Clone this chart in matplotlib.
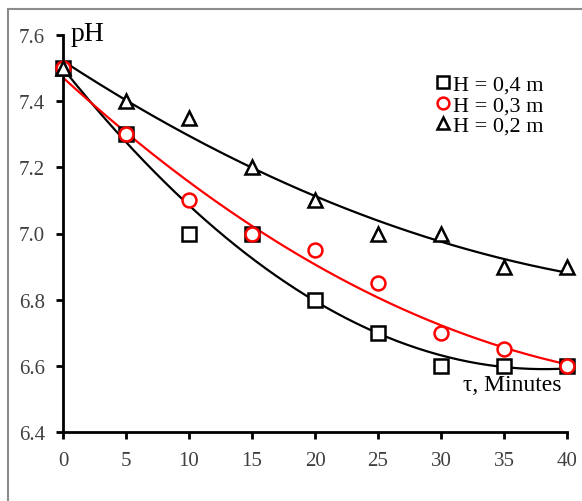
import numpy as np
import matplotlib.pyplot as plt
from matplotlib.lines import Line2D

plt.rcParams['font.family'] = 'Liberation Serif'

tau = [0, 5, 10, 15, 20, 25, 30, 35, 40]
ph_04 = [7.5, 7.3, 7.0, 7.0, 6.8, 6.7, 6.6, 6.6, 6.6]
ph_03 = [7.5, 7.3, 7.1, 7.0, 6.95, 6.85, 6.7, 6.65, 6.6]
ph_02 = [7.5, 7.4, 7.35, 7.2, 7.1, 7.0, 7.0, 6.9, 6.9]
labels = ['H = 0,4 m', 'H = 0,3 m', 'H = 0,2 m']

fig = plt.figure(figsize=(5.82, 5.02), dpi=100)
# grey frame of the original picture (cropped on right/bottom)
fx, fy = 8/582, 1 - 10/502
fig.lines.append(Line2D([fx, 1.0], [fy, fy], transform=fig.transFigure, color='#8c8c8c', lw=1.5))
fig.lines.append(Line2D([fx, fx], [0, fy], transform=fig.transFigure, color='#8c8c8c', lw=1.5))
ax = fig.add_axes([63/582, 1 - 433/502, 504/582, 397/502])

xs = np.linspace(0, 40, 200)
series = [(ph_04, 's', 'black'), (ph_03, 'o', 'red'), (ph_02, '^', 'black')]
for (y, m, c), lab in zip(series, labels):
    p = np.polyfit(tau, y, 2)
    ax.plot(xs, np.polyval(p, xs), color=c, lw=1.6, zorder=2)
    ax.plot(tau, y, m, mfc='white', mec=c, mew=1.8, ms=10, ls='none', label=lab,
            zorder=3, clip_on=False)

ax.set_xlim(0, 40)
ax.set_ylim(6.4, 7.6)
ax.set_xticks(range(0, 41, 5))
ax.set_yticks(np.arange(6.4, 7.61, 0.2))
ax.yaxis.set_major_formatter(plt.FormatStrFormatter('%.1f'))
ax.spines['top'].set_visible(False)
ax.spines['right'].set_visible(False)
ax.spines['left'].set_linewidth(2)
ax.spines['bottom'].set_linewidth(2)
ax.tick_params(axis='both', labelsize=15, labelcolor='#404040', width=2, length=5, direction='out')
ax.tick_params(axis='x', pad=9)
ax.tick_params(axis='y', pad=8)
ax.set_facecolor('none')

ax.text(0.015, 1.005, 'pH', transform=ax.transAxes, fontsize=20, va='center', ha='left')
ax.text(0.99, 0.12, 'τ, Minutes', transform=ax.transAxes, fontsize=17, ha='right', va='center')

ax.legend(loc='upper right', bbox_to_anchor=(0.985, 0.94), frameon=False, fontsize=16,
          handlelength=0.5, handletextpad=0.2, labelspacing=0.0, borderpad=0.2,
          markerscale=0.85)

fig.savefig('out.png', dpi=100)
